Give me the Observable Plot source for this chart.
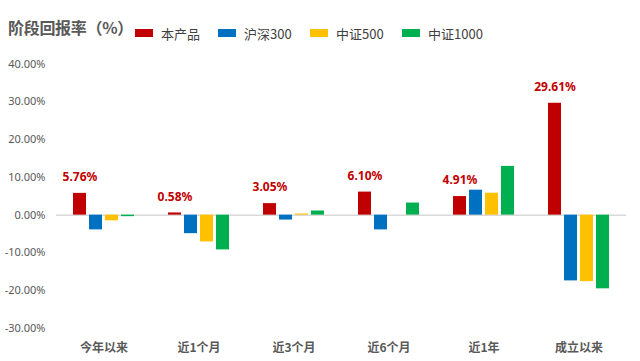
<!DOCTYPE html>
<html>
<head>
<meta charset="utf-8">
<script src="https://cdn.jsdelivr.net/npm/d3@7"></script>
<script src="https://cdn.jsdelivr.net/npm/@observablehq/plot@0.6"></script>
<style>
  html, body { margin: 0; padding: 0; background: #fff; }
  #wrap { width: 640px; height: 361px; position: relative; overflow: hidden; font-family: "Noto Sans CJK SC", "Noto Sans", sans-serif; }
  #header { position: relative; height: 50px; }
  #title { position: absolute; left: 8px; top: 15px; font-size: 16px; font-weight: bold; color: #595959; line-height: 24px; white-space: nowrap; letter-spacing: -0.3px; }
  .item { position: absolute; top: 24px; height: 18px; display: flex; align-items: center; font-size: 13px; color: #404040; white-space: nowrap; }
  .sw { width: 18px; height: 8px; margin-right: 8px; display: inline-block; }
</style>
</head>
<body>
<div id="wrap">
  <div id="header">
    <div id="title">阶段回报率（%）</div>
  </div>
  <div id="chart"></div>
</div>
<script>
const categories = ["今年以来", "近1个月", "近3个月", "近6个月", "近1年", "成立以来"];
const series = ["本产品", "沪深300", "中证500", "中证1000"];
const colors = ["#C00000", "#0070C0", "#FFC000", "#00B050"];
const product = [5.76, 0.58, 3.05, 6.10, 4.91, 29.61];
const hs300 = [-3.9, -4.9, -1.3, -3.9, 6.6, -17.4];
const zz500 = [-1.5, -7.1, 0.3, 0, 5.8, -17.6];
const zz1000 = [-0.4, -9.2, 1.1, 3.2, 12.9, -19.5];
const yTicks = [-30, -20, -10, 0, 10, 20, 30, 40];

const seriesValues = [product, hs300, zz500, zz1000];
const table = categories.flatMap((c, i) => series.map((s, j) => ({category: c, series: s, value: seriesValues[j][i]})));

// legend
const legendX = [135, 218, 310, 402];
const header = document.getElementById("header");
series.forEach((s, j) => {
  const it = document.createElement("div");
  it.className = "item";
  it.style.left = legendX[j] + "px";
  it.innerHTML = `<span class="sw" style="background:${colors[j]}"></span><span>${s}</span>`;
  header.appendChild(it);
});

const chart = Plot.plot({
  width: 640,
  height: 311,
  marginTop: 13.5,
  marginBottom: 33,
  marginLeft: 55,
  marginRight: 13,
  style: {fontFamily: "'Noto Sans', 'Noto Sans CJK SC', sans-serif", fontSize: "11px", color: "#595959", background: "white"},
  fx: {domain: categories, padding: 0, label: null},
  x: {domain: series, paddingInner: 0.18, paddingOuter: 0.89, axis: null},
  y: {domain: [-30, 40], label: null},
  color: {domain: series, range: colors},
  marks: [
    Plot.axisY({ticks: yTicks, tickFormat: d => d.toFixed(2) + "%", tickSize: 0, tickPadding: 11, label: null, fill: "#595959", fontSize: 11}),
    Plot.axisFx({anchor: "bottom", tickSize: 0, tickPadding: 15, label: null, fontWeight: "bold", fontSize: 12, fill: "#595959", fontFamily: "'Noto Sans CJK SC', sans-serif"}),
    Plot.ruleY([0], {stroke: "#d9d9d9", strokeWidth: 1.5}),
    Plot.barY(table, {fx: "category", x: "series", y: "value", fill: "series"}),
    Plot.text(table.filter(d => d.series === "本产品"), {fx: "category", x: "series", y: "value", text: d => d.value.toFixed(2) + "%", dy: -16, fill: "#C00000", fontWeight: "bold", fontSize: 12})
  ]
});
document.getElementById("chart").appendChild(chart);
</script>
</body>
</html>
